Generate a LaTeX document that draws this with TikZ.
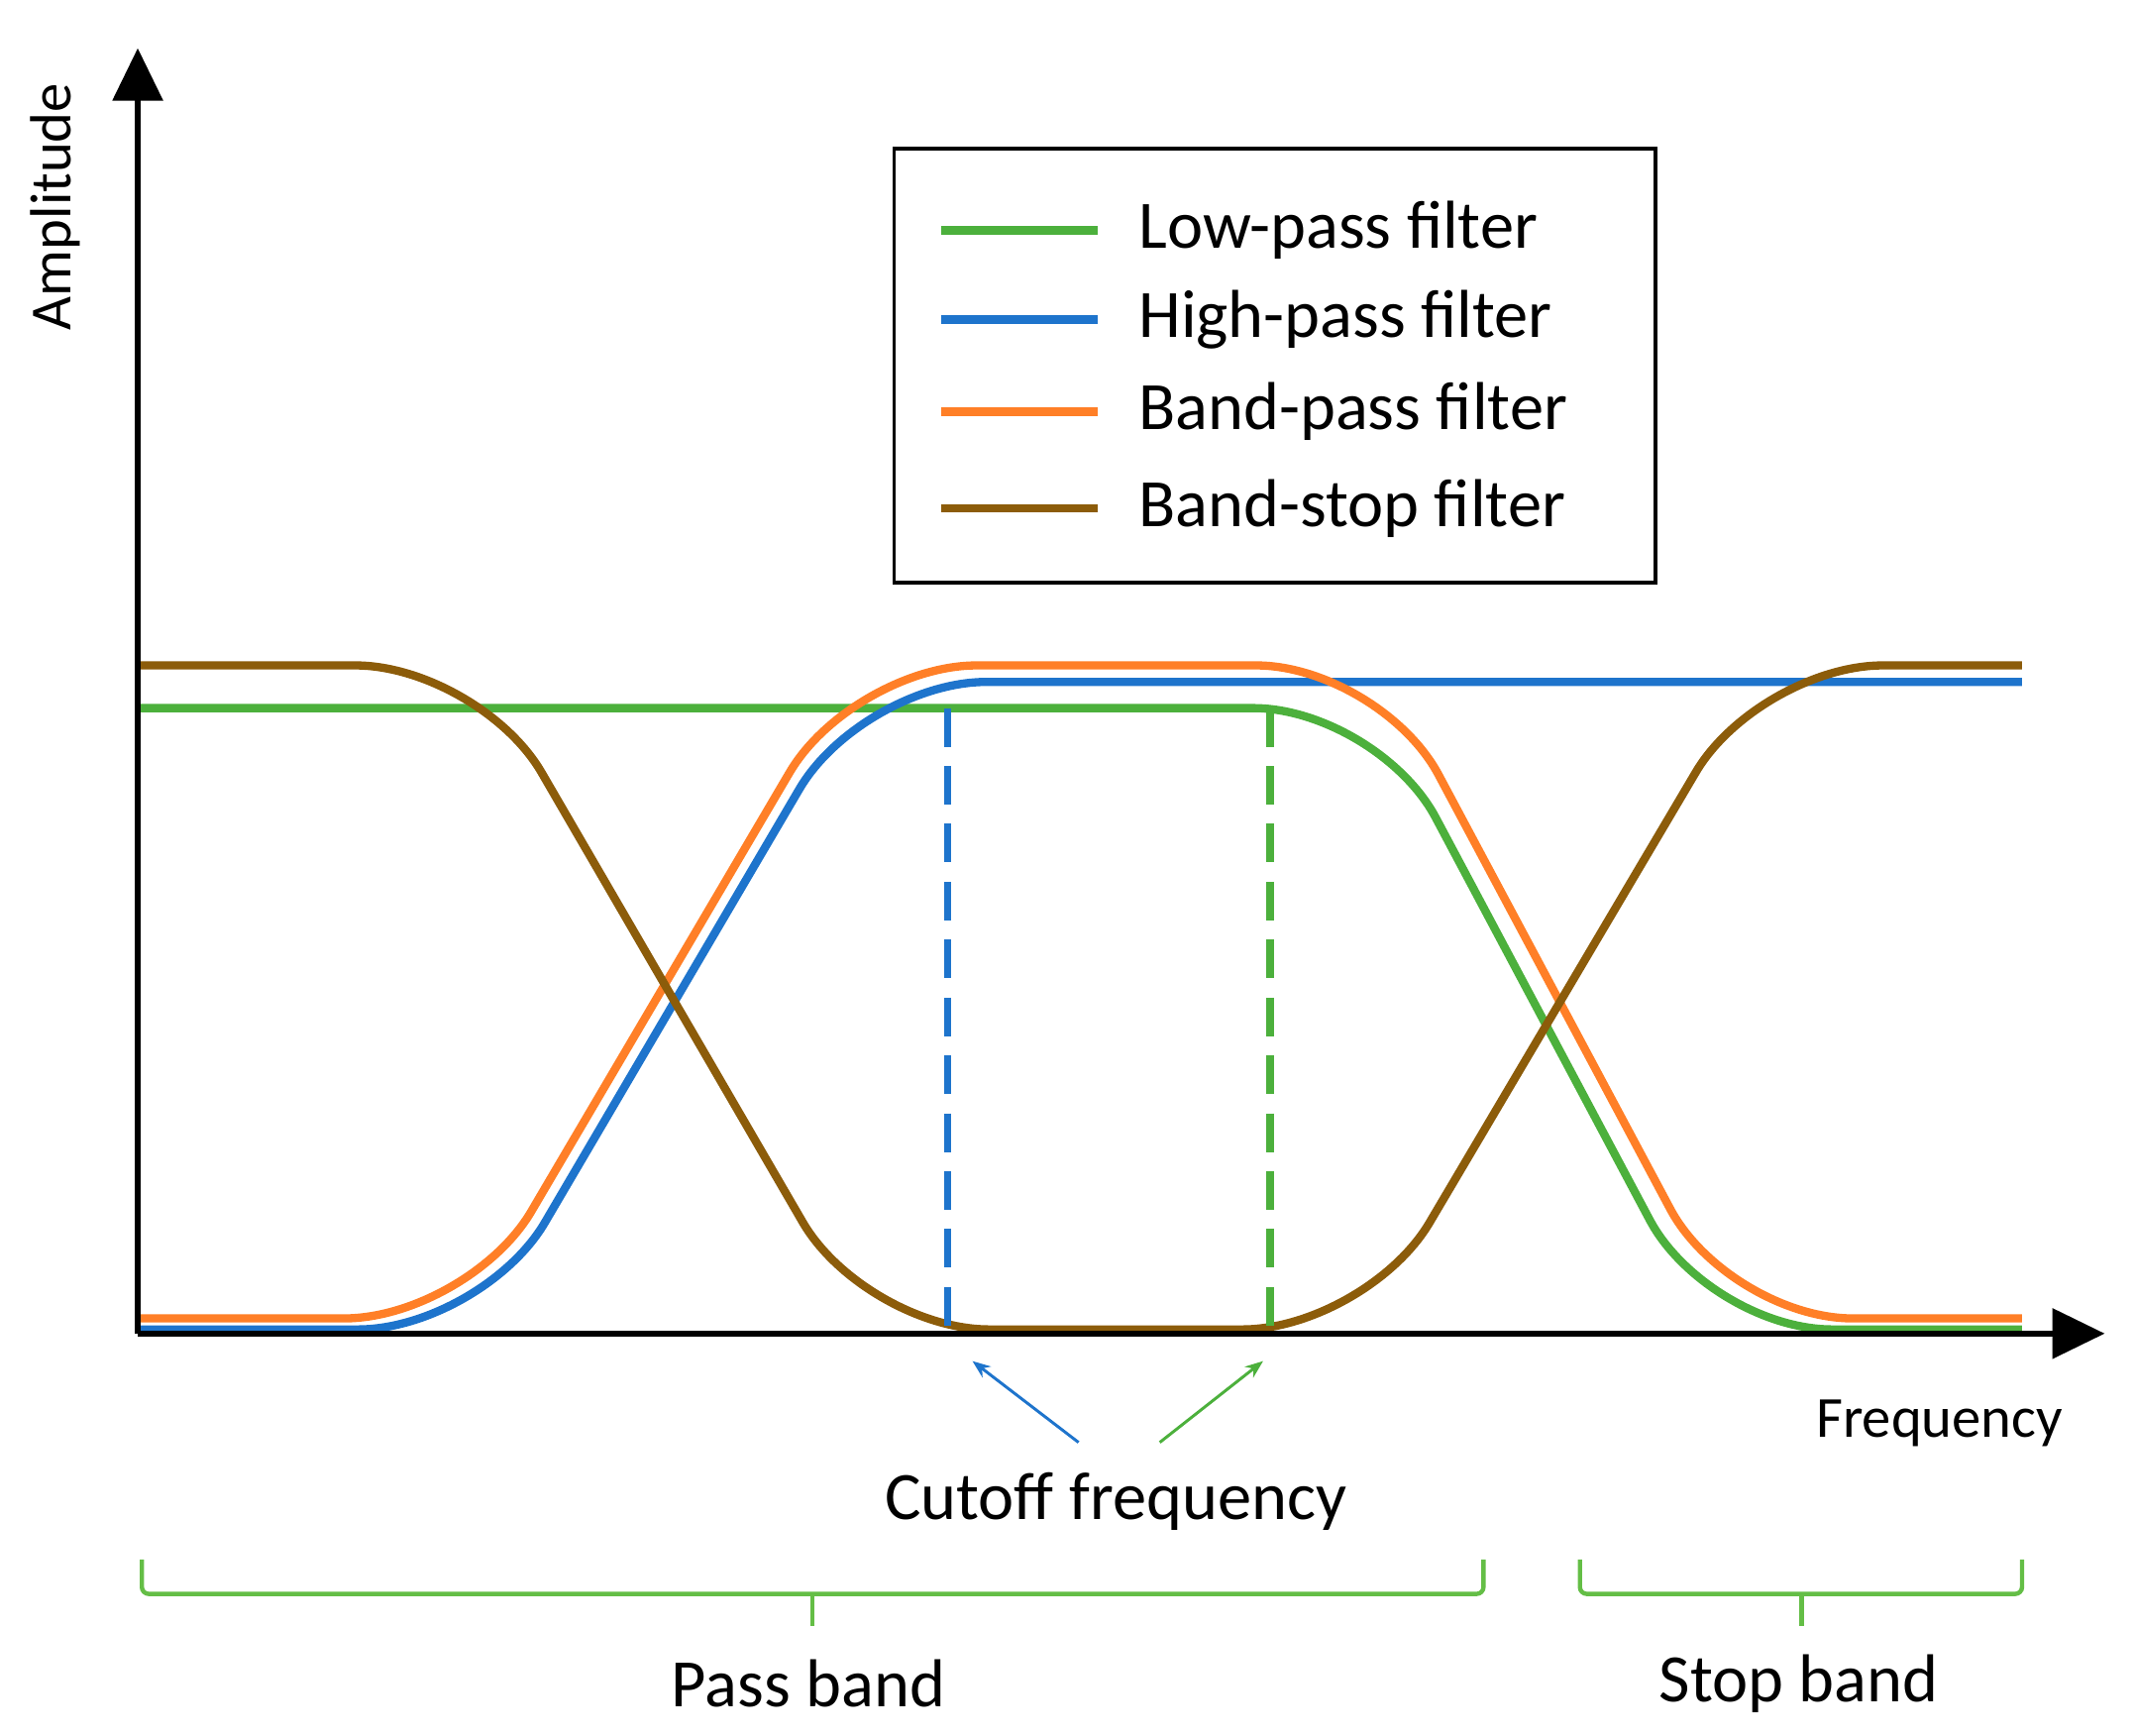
\documentclass[tikz,border=0pt]{standalone}
\usepackage{fontspec}
\setmainfont{Carlito}
\usetikzlibrary{arrows.meta}
\definecolor{cg}{RGB}{76,176,60}
\definecolor{cb}{RGB}{30,116,204}
\definecolor{co}{RGB}{255,127,39}
\definecolor{cr}{RGB}{140,92,10}
\definecolor{cbr}{RGB}{100,190,70}
\begin{document}
\begin{tikzpicture}[x=0.01cm,y=-0.01cm,
  curve/.style={line width=1.7pt,rounded corners=0.9cm},
  cutdash/.style={line width=1.5pt,dash pattern=on 0.28cm off 0.14cm},
  lab/.style={font=\fontsize{14}{16}\selectfont,inner sep=0pt},
  brace/.style={cbr,line width=0.9pt,rounded corners=0.05cm},
  ptr/.style={line width=0.6pt,-{Stealth[length=0.13cm,width=0.1cm]}}]
\useasboundingbox (0,0) rectangle (1550,1260);
% legend
\draw[line width=0.7pt] (649,108) rectangle (1202,423);
\foreach \yy/\cc/\tt [count=\i] in {167/cg/Low-pass filter,232/cb/High-pass filter,299/co/Band-pass filter,369/cr/Band-stop filter}{
  \draw[\cc,line width=1.8pt] (683,\yy) -- (797,\yy);
  \node[lab,anchor=west] (leg\i) at (826,\yy) {\tt};
}
% curves
\draw[curve,cg] (100,514) -- (1000,514) -- (1240,965) -- (1468,965);
\draw[curve,cb] (100,965) -- (350,965) -- (626,495) -- (1468,495);
\draw[curve,co] (100,957) -- (340,957) -- (619,483) -- (1002,483) -- (1255,957) -- (1468,957);
\draw[curve,cr] (100,483) -- (348,483) -- (628,965) -- (992,965) -- (1277,483) -- (1468,483);
% cutoff dashes
\draw[cutdash,cb] (688,514) -- (688,965);
\draw[cutdash,cg] (922,514) -- (922,965);
% axes
\draw[line width=1.1pt,-{Triangle[length=0.38cm,width=0.36cm]}] (100,968) -- (100,35);
\draw[line width=1.1pt,-{Triangle[length=0.38cm,width=0.36cm]}] (100,968) -- (1528,968);
\node[font=\fontsize{12}{14}\selectfont,rotate=90,inner sep=0pt] (amp) at (40,150) {Amplitude};
\node[font=\fontsize{12}{14}\selectfont,inner sep=0pt] (freq) at (1408,1033) {Frequency};
% cutoff label and pointers
\node[lab] (cut) at (810,1090) {Cutoff frequency};
\coordinate (b1) at (783,1047); \coordinate (b2) at (706,988);
\coordinate (g1) at (842,1047); \coordinate (g2) at (917,988);
\draw[ptr,cb] (b1) -- (b2);
\draw[ptr,cg] (g1) -- (g2);
% braces
\draw[brace] (103,1132) -- (103,1157) -- (1077,1157) -- (1077,1132);
\draw[brace] (590,1157) -- (590,1180);
\draw[brace] (1147,1132) -- (1147,1157) -- (1468,1157) -- (1468,1132);
\draw[brace] (1308,1157) -- (1308,1180);
\node[lab] (pass) at (587,1222) {Pass band};
\node[lab] (stop) at (1306,1222) {Stop band};
\end{tikzpicture}
\end{document}
